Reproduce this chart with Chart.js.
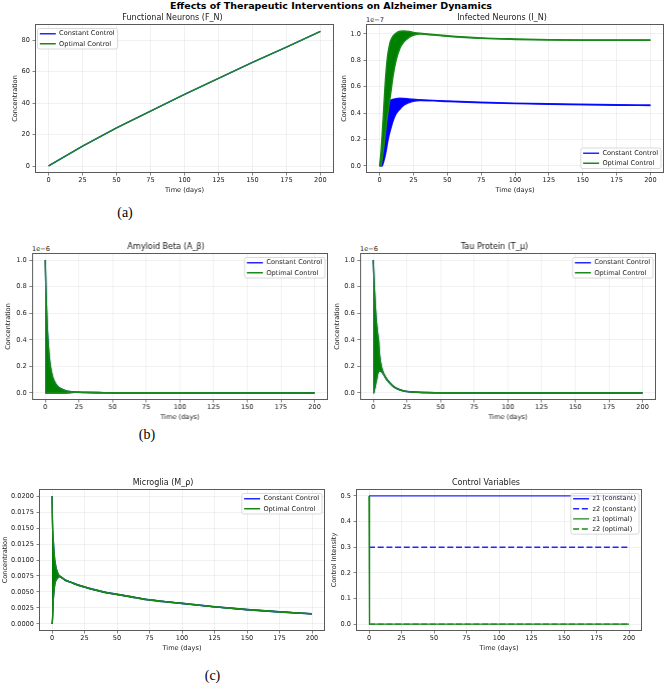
<!DOCTYPE html>
<html>
<head>
<meta charset="utf-8">
<title>Effects of Therapeutic Interventions on Alzheimer Dynamics</title>
<script src="https://cdn.jsdelivr.net/npm/chart.js@4.4.1/dist/chart.umd.min.js"></script>
<style>
  html, body { margin: 0; padding: 0; background: #ffffff; }
  #fig { position: relative; width: 669px; height: 686px; overflow: hidden; background: #ffffff; }
  #fig canvas { position: absolute; }
  .txt { position: absolute; white-space: nowrap; color: #000; }
  .sup { font-family: "DejaVu Sans"; font-weight: bold; font-size: 9.5px; line-height: 11px; text-align: center; }
  .sub { font-family: "Liberation Serif"; font-size: 14px; line-height: 16px; text-align: center; width: 60px; }
  .off { font-family: "DejaVu Sans"; font-size: 6.6px; line-height: 8px; color: #1a1a1a; }
</style>
</head>
<body>
<div id="fig">
  <div class="txt sup" style="left:0;top:0;width:662px;">Effects of Therapeutic Interventions on Alzheimer Dynamics</div>
  <div class="txt sub" style="left:95px;top:205px;">(a)</div>
  <div class="txt sub" style="left:117px;top:427px;">(b)</div>
  <div class="txt sub" style="left:182.5px;top:668px;">(c)</div>
  <div class="txt off" style="left:366px;top:16px;">1e−7</div>
  <div class="txt off" style="left:32px;top:245px;">1e−6</div>
  <div class="txt off" style="left:360px;top:245px;">1e−6</div>
</div>
<script>
// ---------------- DATA ----------------
const timeTicks = [0, 25, 50, 75, 100, 125, 150, 175, 200];

// Functional Neurons (F_N)
const fnTime = [0, 25, 50, 75, 100, 125, 150, 175, 200];
const fnConstant = [0.2, 12.7, 24.3, 35.0, 45.5, 55.7, 65.8, 75.6, 85.5];
const fnOptimal  = [0.2, 12.7, 24.3, 35.0, 45.5, 55.7, 65.8, 75.6, 85.5];
const fnTicks = [0, 20, 40, 60, 80];

// Infected Neurons (I_N), in units of 1e-7 (oscillation envelopes)
const inTime = [0, 1, 2, 3, 4, 5, 6, 7, 8, 10, 12, 15, 18, 22, 25, 30, 40, 50, 75, 100, 125, 150, 175, 200];
const inConstantUpper = [0, 0.02, 0.07, 0.15, 0.25, 0.35, 0.44, 0.48, 0.495, 0.505, 0.51, 0.513, 0.512, 0.508, 0.505, 0.502, 0.497, 0.492, 0.483, 0.476, 0.471, 0.467, 0.464, 0.462];
const inConstantLower = [0, 0, 0, 0.03, 0.07, 0.12, 0.18, 0.23, 0.27, 0.34, 0.39, 0.43, 0.46, 0.48, 0.49, 0.496, 0.493, 0.488, 0.479, 0.472, 0.467, 0.463, 0.460, 0.458];
const inOptimalUpper  = [0, 0.10, 0.25, 0.42, 0.60, 0.74, 0.84, 0.90, 0.945, 0.985, 1.005, 1.02, 1.022, 1.018, 1.012, 1.005, 0.995, 0.986, 0.970, 0.962, 0.957, 0.955, 0.955, 0.955];
const inOptimalLower  = [0, 0, 0.06, 0.13, 0.22, 0.31, 0.39, 0.46, 0.53, 0.68, 0.79, 0.89, 0.94, 0.975, 0.99, 0.999, 0.991, 0.982, 0.966, 0.958, 0.953, 0.951, 0.951, 0.951];
const unitTicks = [0, 0.2, 0.4, 0.6, 0.8, 1.0];

// Amyloid Beta (A_β), in units of 1e-6 (both controls coincide)
const abTime  = [0, 0.5, 1, 1.5, 2, 3, 4, 5, 6, 8, 10, 12, 15, 18, 22, 25, 30, 40, 50, 75, 100, 150, 200];
const abUpper = [1.0, 0.80, 0.63, 0.50, 0.41, 0.27, 0.19, 0.14, 0.105, 0.065, 0.043, 0.030, 0.018, 0.012, 0.008, 0.006, 0.004, 0.003, 0.002, 0.001, 0.001, 0.0005, 0.0003];
const abLower = [0, 0, 0, 0, 0, 0, 0, 0, 0, 0, 0, 0, 0, 0.002, 0.004, 0.004, 0.003, 0.002, 0.0015, 0.0008, 0.0008, 0.0004, 0.0002];

// Tau Protein (T_μ), in units of 1e-6 (both controls coincide)
const tauTime  = [0, 0.3, 0.6, 1, 1.5, 2, 2.5, 3, 3.5, 4, 4.5, 5, 6, 7, 8, 10, 12, 15, 18, 22, 25, 30, 40, 50, 75, 100, 150, 200];
const tauUpper = [1.0, 0.92, 0.85, 0.76, 0.66, 0.58, 0.52, 0.47, 0.43, 0.39, 0.31, 0.26, 0.20, 0.165, 0.14, 0.105, 0.08, 0.05, 0.032, 0.018, 0.012, 0.007, 0.003, 0.0015, 0.0005, 0.0002, 0, 0];
const tauLower = [0, 0, 0.01, 0.03, 0.05, 0.08, 0.10, 0.13, 0.15, 0.16, 0.165, 0.165, 0.16, 0.15, 0.135, 0.10, 0.076, 0.047, 0.029, 0.016, 0.010, 0.006, 0.0025, 0.001, 0.0003, 0.0001, 0, 0];

// Microglia (M_ρ) (both controls coincide)
const mgTime  = [0, 0.3, 0.6, 1, 1.5, 2, 2.5, 3, 4, 5, 6, 8, 10, 15, 20, 25, 30, 40, 50, 60, 75, 100, 125, 150, 175, 200];
const mgUpper = [0.0200, 0.0165, 0.0145, 0.0130, 0.0115, 0.0102, 0.0095, 0.0089, 0.0082, 0.0077, 0.0075, 0.0072, 0.0069, 0.0065, 0.0061, 0.0058, 0.0055, 0.0050, 0.00465, 0.0043, 0.0038, 0.00323, 0.0027, 0.00226, 0.0019, 0.0016];
const mgLower = [0, 0.0005, 0.0015, 0.0037, 0.0050, 0.0060, 0.0065, 0.0068, 0.0071, 0.0073, 0.0074, 0.00715, 0.00685, 0.00645, 0.00605, 0.00575, 0.00545, 0.00495, 0.0046, 0.00425, 0.00375, 0.0032, 0.00267, 0.00223, 0.00187, 0.00157];
const mgTicks = [0, 0.0025, 0.005, 0.0075, 0.01, 0.0125, 0.015, 0.0175, 0.02];

// Control Variables
const ctrlTimeConst = [0, 200];
const z1Constant = [0.5, 0.5];
const z2Constant = [0.3, 0.3];
const ctrlTimeOpt = [0, 0.4, 200];
const z1Optimal = [0.5, 0, 0];
const z2Optimal = [0, 0, 0];
const ctrlTicks = [0, 0.1, 0.2, 0.3, 0.4, 0.5];

// ---------------- STYLE ----------------
const FONT = { family: "'DejaVu Sans'", size: 6.6, weight: 'normal' };
const TITLE_FONT = { family: "'DejaVu Sans'", size: 8, weight: 'normal' };
const TEXT = '#1a1a1a';
const GRID = 'rgba(176,176,176,0.3)';
const BLUE = 'rgba(0,0,255,0.85)';
const GREEN = '#1a891a';
const BLUE_FILL = '#0000ff';
const GREEN_FILL = '#008000';

Chart.defaults.font.family = "'DejaVu Sans'";

function pts(t, v) { return t.map((x, i) => ({ x: x, y: v[i] })); }

function lineDs(label, t, v, color, order, extra) {
  return Object.assign({
    label: label, data: pts(t, v), borderColor: color, backgroundColor: color,
    borderWidth: 1.4, pointRadius: 0, fill: false, tension: 0, order: order
  }, extra || {});
}
function bandDs(label, t, up, lo, color, fillColor, order) {
  return [
    lineDs(label, t, up, color, order, { cubicInterpolationMode: 'monotone' }),
    lineDs(label + ' envelope', t, lo, color, order, { cubicInterpolationMode: 'monotone', fill: '-1', backgroundColor: fillColor, inLegend: false })
  ];
}

// legend placed inside the plot, drawn above the data with a frame
function drawLegendFrame(chart) {
  const f = chart.legend && chart.legend.__frame;
  if (!f) return;
  const ctx = chart.ctx;
  ctx.save();
  ctx.beginPath();
  if (ctx.roundRect) ctx.roundRect(f.fl, f.ft, f.fw, f.fh, 2); else ctx.rect(f.fl, f.ft, f.fw, f.fh);
  ctx.fillStyle = 'rgba(255,255,255,0.8)';
  ctx.fill();
  ctx.strokeStyle = 'rgba(204,204,204,0.9)';
  ctx.lineWidth = 0.8;
  ctx.stroke();
  ctx.restore();
}
const innerLegend = {
  id: 'innerLegend',
  beforeLayout(chart) {
    const lg = chart.legend;
    if (lg && !lg.__custom) {
      lg.__custom = true;
      lg._layers = () => [{ z: 5, draw: () => { drawLegendFrame(chart); lg.draw(); } }];
    }
  },
  afterLayout(chart, args, o) {
    const lg = chart.legend;
    if (!lg || !lg.columnSizes || !lg.columnSizes.length || !lg.legendItems) return;
    const ca = chart.chartArea;
    const n = lg.legendItems.length;
    const fs = o.fs, pad = o.pad;
    const lh = fs + pad;
    const colW = lg.columnSizes[0].width;
    const fw = 2.3 + colW + 3, fh = 10.4 + (n - 1) * lh;
    const fl = o.corner.indexOf('right') >= 0 ? ca.right - 3 - fw : ca.left + 2.5;
    const ft = o.corner.indexOf('lower') >= 0 ? ca.bottom - 4.5 - fh : ca.top + 4.5;
    lg.left = fl + 2.3 - pad;
    lg.top = ft + 5.2 - pad - fs / 2;
    lg.right = lg.left + 2 * pad + colW + 4;
    lg.bottom = lg.top + pad + n * lh + 4;
    lg.width = lg.right - lg.left;
    lg.height = lg.bottom - lg.top;
    lg.__frame = { fl: fl, ft: ft, fw: fw, fh: fh };
  }
};
const framePlugin = {
  id: 'frame',
  afterDatasetsDraw(chart) {
    const ca = chart.chartArea, ctx = chart.ctx;
    ctx.save();
    ctx.strokeStyle = '#5a5a5a';
    ctx.lineWidth = 1;
    ctx.strokeRect(Math.round(ca.left) + 0.5, Math.round(ca.top) + 0.5, Math.round(ca.right - ca.left) - 1, Math.round(ca.bottom - ca.top) - 1);
    ctx.restore();
  }
};

function makePanel(p) {
  const fig = document.getElementById('fig');
  const topH = 13, xH = 21;
  const rightPad = Math.min(8, 669 - p.rect.R);
  const w = p.rect.R - p.rect.L + p.yW + rightPad;
  const h = p.rect.B - p.rect.T + topH + xH;
  const c = document.createElement('canvas');
  c.width = w; c.height = h;
  c.style.left = (p.rect.L - p.yW) + 'px';
  c.style.top = (p.rect.T - topH) + 'px';
  c.style.width = w + 'px'; c.style.height = h + 'px';
  fig.appendChild(c);
  const baseGen = Chart.defaults.plugins.legend.labels.generateLabels;
  new Chart(c, {
    type: 'line',
    data: { datasets: p.datasets },
    plugins: [innerLegend, framePlugin],
    options: {
      responsive: false, animation: false, devicePixelRatio: 1, events: [],
      layout: { padding: { left: 0, top: 0, right: rightPad, bottom: 0 } },
      plugins: {
        tooltip: { enabled: false },
        title: { display: true, text: p.title, font: TITLE_FONT, color: TEXT, padding: { top: 2.2, bottom: 1.2 } },
        legend: {
          display: true, position: 'chartArea', align: 'start',
          labels: {
            usePointStyle: true, pointStyle: 'line', pointStyleWidth: 16, padding: 3.5,
            font: FONT, color: TEXT,
            generateLabels: (chart) => {
              const items = baseGen(chart);
              items.forEach(it => {
                const ds = chart.data.datasets[it.datasetIndex];
                it.lineDash = ds.borderDash || [];
                it.lineWidth = ds.borderWidth;
                it.strokeStyle = ds.borderColor;
                it.pointStyle = 'line';
                it.lineCap = 'butt';
              });
              return items;
            },
            filter: (item, data) => data.datasets[item.datasetIndex].inLegend !== false,
            sort: (a, b) => a.datasetIndex - b.datasetIndex
          }
        },
        innerLegend: { corner: p.corner, fs: 6.6, pad: 3.5 }
      },
      scales: {
        x: {
          type: 'linear', min: -10, max: 210,
          afterBuildTicks: (s) => { s.ticks = timeTicks.map(v => ({ value: v })); },
          afterFit: (s) => { s.height = xH; },
          ticks: { font: FONT, color: TEXT, padding: 1, maxRotation: 0, autoSkip: false, callback: (v) => String(v) },
          grid: { color: GRID, lineWidth: 0.6, drawTicks: true, tickLength: 2.5, tickColor: '#333', tickWidth: 0.6 },
          border: { display: false },
          title: { display: true, text: 'Time (days)', font: FONT, color: TEXT, padding: { top: 0, bottom: 0 } }
        },
        y: {
          type: 'linear', min: p.yMin, max: p.yMax,
          afterBuildTicks: (s) => { s.ticks = p.yTicks.map(v => ({ value: v })); },
          afterFit: (s) => { s.width = p.yW; },
          ticks: { font: FONT, color: TEXT, padding: 2.5, autoSkip: false, callback: (v) => Number(v).toFixed(p.dec) },
          grid: { color: GRID, lineWidth: 0.6, drawTicks: true, tickLength: 2.5, tickColor: '#333', tickWidth: 0.6 },
          border: { display: false },
          title: { display: true, text: p.yTitle, font: FONT, color: TEXT, padding: { top: 0, bottom: 0 } }
        }
      }
    }
  });
}

const panels = [
  { rect: { L: 35, T: 24, R: 334, B: 173 }, yW: 24, title: 'Functional Neurons (F_N)', yTitle: 'Concentration',
    yMin: -4.3, yMax: 90.2, yTicks: fnTicks, dec: 0, corner: 'upper left',
    datasets: [lineDs('Constant Control', fnTime, fnConstant, BLUE, 1), lineDs('Optimal Control', fnTime, fnOptimal, GREEN, 0)] },
  { rect: { L: 366, T: 24, R: 664, B: 173 }, yW: 26, title: 'Infected Neurons (I_N)', yTitle: 'Concentration',
    yMin: -0.053, yMax: 1.075, yTicks: unitTicks, dec: 1, corner: 'lower right',
    datasets: [].concat(bandDs('Constant Control', inTime, inConstantUpper, inConstantLower, BLUE, BLUE_FILL, 1),
                        bandDs('Optimal Control', inTime, inOptimalUpper, inOptimalLower, GREEN, GREEN_FILL, 0)) },
  { rect: { L: 32, T: 253, R: 328, B: 400 }, yW: 27.7, title: 'Amyloid Beta (A_β)', yTitle: 'Concentration',
    yMin: -0.053, yMax: 1.053, yTicks: unitTicks, dec: 1, corner: 'upper right',
    datasets: [].concat(bandDs('Constant Control', abTime, abUpper, abLower, BLUE, BLUE_FILL, 1),
                        bandDs('Optimal Control', abTime, abUpper, abLower, GREEN, GREEN_FILL, 0)) },
  { rect: { L: 360, T: 253, R: 656, B: 400 }, yW: 26.7, title: 'Tau Protein (T_μ)', yTitle: 'Concentration',
    yMin: -0.053, yMax: 1.053, yTicks: unitTicks, dec: 1, corner: 'upper right',
    datasets: [].concat(bandDs('Constant Control', tauTime, tauUpper, tauLower, BLUE, BLUE_FILL, 1),
                        bandDs('Optimal Control', tauTime, tauUpper, tauLower, GREEN, GREEN_FILL, 0)) },
  { rect: { L: 39, T: 489, R: 325, B: 631 }, yW: 38, title: 'Microglia (M_ρ)', yTitle: 'Concentration',
    yMin: -0.0011, yMax: 0.0211, yTicks: mgTicks, dec: 4, corner: 'upper right',
    datasets: [].concat(bandDs('Constant Control', mgTime, mgUpper, mgLower, BLUE, BLUE_FILL, 1),
                        bandDs('Optimal Control', mgTime, mgUpper, mgLower, GREEN, GREEN_FILL, 0)) },
  { rect: { L: 356, T: 489, R: 642, B: 631 }, yW: 26, title: 'Control Variables', yTitle: 'Control Intensity',
    yMin: -0.027, yMax: 0.527, yTicks: ctrlTicks, dec: 1, corner: 'upper right',
    datasets: [
      lineDs('z1 (constant)', ctrlTimeConst, z1Constant, BLUE, 3),
      lineDs('z2 (constant)', ctrlTimeConst, z2Constant, BLUE, 2, { borderDash: [6, 2.7] }),
      lineDs('z1 (optimal)', ctrlTimeOpt, z1Optimal, GREEN, 1),
      lineDs('z2 (optimal)', ctrlTimeOpt, z2Optimal, GREEN, 0, { borderDash: [6, 2.7] })
    ] }
];

panels.forEach(makePanel);
</script>
</body>
</html>
